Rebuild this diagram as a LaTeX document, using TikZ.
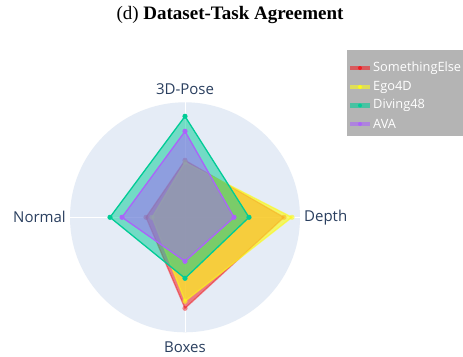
\documentclass[tikz,border=0pt]{standalone}
\usepackage{fontspec}
\setmainfont{Liberation Serif}
\newfontfamily\osans{Open Sans}
\begin{document}
\begin{tikzpicture}[x=1pt,y=-1pt,
  axlabel/.style={font=\osans\fontsize{15}{18}\selectfont, text=labcol, inner sep=0pt},
  legtext/.style={font=\osans\fontsize{12.8}{15}\selectfont, text=white, inner sep=0pt, anchor=west}]
\definecolor{labcol}{HTML}{2A3F5F}
\definecolor{bgpolar}{HTML}{E5ECF6}
\definecolor{cse}{RGB}{240,30,35}
\definecolor{ceg}{RGB}{252,250,25}
\definecolor{cdv}{HTML}{00CC96}
\definecolor{cav}{HTML}{AB63FA}
\definecolor{legbg}{RGB}{180,180,180}
\useasboundingbox (0,0) rectangle (463,356);
\fill[white] (0,0) rectangle (463,356);
% title
\node[font=\fontsize{19}{22}\selectfont, inner sep=0pt] (title) at (230,15) {(d) \textbf{Dataset-Task Agreement}};
% polar background
\coordinate (c) at (185,217.3);
\fill[bgpolar] (c) circle[radius=115];
\draw[white, line width=1pt] (185,102.3) -- (185,332.3);
\draw[white, line width=1pt] (70,217.3) -- (300,217.3);
% polygon: colour, top, right, bottom, left radii, fill opacity, line opacity
\newcommand{\radar}[7]{%
  \fill[#1, fill opacity=#6] (185,217.3-#2) -- (185+#3,217.3) -- (185,217.3+#4) -- (185-#5,217.3) -- cycle;
  \draw[#1, draw opacity=#7, line width=1.3pt, line join=miter] (185,217.3-#2) -- (185+#3,217.3) -- (185,217.3+#4) -- (185-#5,217.3) -- cycle;
  \foreach \p in {(185,217.3-#2),(185+#3,217.3),(185,217.3+#4),(185-#5,217.3)} \fill[#1, opacity=#7] \p circle[radius=2.6];
}
\radar{cse}{57}{99}{91}{39}{0.55}{0.5}
\radar{ceg}{55}{107}{84}{33}{0.65}{0.6}
\radar{cdv}{101}{64}{61}{75}{0.5}{1}
\radar{cav}{86}{49}{44}{63}{0.5}{1}
% axis labels
\node[axlabel] (pose) at (185,89) {3D-Pose};
\node[axlabel, anchor=west] (depth) at (304,217.3) {Depth};
\node[axlabel] (boxes) at (185,347) {Boxes};
\node[axlabel, anchor=east] (normal) at (66,217.3) {Normal};
% legend
\fill[legbg] (347,50) rectangle (463,136);
\newcommand{\legrow}[3]{%
  \draw[#1, opacity=0.6, line width=4.5pt] (350,#2) -- (370,#2);
  \fill[#1] (360,#2) circle[radius=2];
  \node[legtext] at (373,#2) {#3};
}
\legrow{cse}{68}{SomethingElse}
\legrow{ceg}{87}{Ego4D}
\legrow{cdv}{105.5}{Diving48}
\legrow{cav}{124}{AVA}
\end{tikzpicture}
\end{document}
